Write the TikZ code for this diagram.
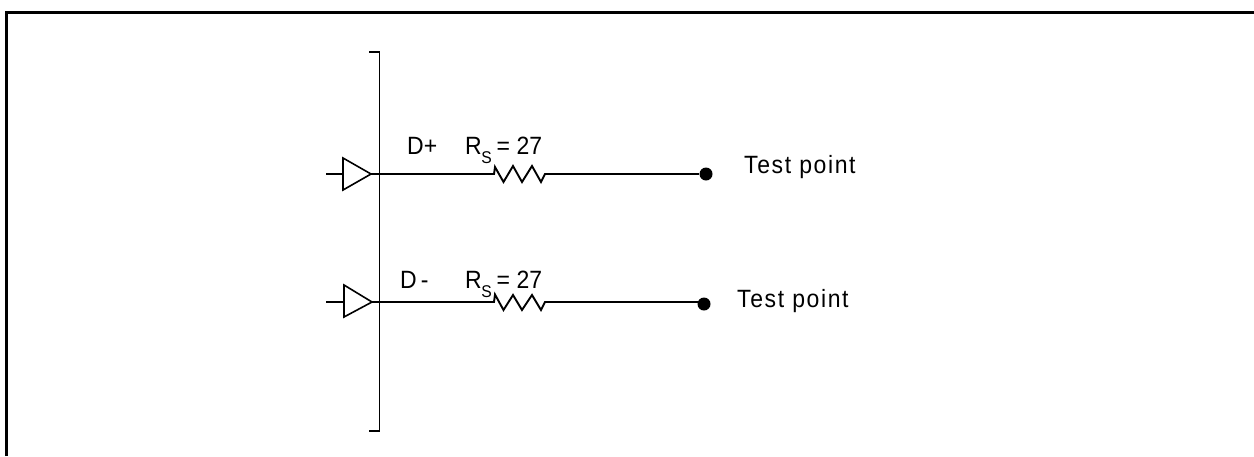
\documentclass[tikz,border=0pt]{standalone}
\usepackage{fontspec}
\setmainfont[FakeStretch=0.92]{Liberation Sans}
\newcommand{\rslabel}{R\kern-0.5pt\raisebox{-9pt}{\fontsize{17}{19}\selectfont S}\kern5pt= 27}
\tikzset{
 wire/.style={draw=black,line width=1.6pt},
 heavy/.style={draw=black,line width=1.9pt},
 frame/.style={draw=black,line width=3pt},
 lab/.style={inner sep=0pt,font=\fontsize{25}{28}\selectfont,anchor=base west},
 tplab/.style={lab,font=\fontsize{25}{28}\selectfont\addfontfeature{LetterSpace=6.5}},
 dotn/.style={circle,fill=black,inner sep=0pt,minimum size=13pt}
}
\begin{document}
\begin{tikzpicture}[x=1pt,y=-1pt,line join=miter]
\useasboundingbox (0,0) rectangle (1254,456);
\draw[frame] (6.5,456) -- (6.5,12.5) -- (1254,12.5);
\draw[wire] (369,52) -- (379.5,52) -- (379.5,431) -- (369,431);
% upper channel
\coordinate (i1) at (326,174);
\coordinate (t1) at (343,174);
\coordinate (o1) at (371,174);
\coordinate (r1z) at (474,174);
\coordinate (r1a) at (494,174);
\coordinate (r1b) at (545,174);
\coordinate (r1c) at (569,174);
\node[dotn] (d1) at (706,174) {};
\draw[wire] (i1) -- (t1);
\draw[wire] (343,158) -- (o1) -- (343,190) -- cycle;
\draw[wire] (o1) -- (r1z);
\draw[heavy] (r1z) -- (r1a) -- (495,167) -- (503.5,182) -- (513,166) -- (522,182) -- (532,166) -- (541,182) -- (r1b) -- (r1c);
\draw[wire] (r1c) -- (d1);
\node[lab] (dp) at (407,154) {D+};
\node[lab] (rs1) at (465,154) {\rslabel};
\node[tplab] (tp1) at (744,173) {Test point};
% lower channel
\coordinate (i2) at (326,302);
\coordinate (t2) at (344,302);
\coordinate (o2) at (372,302);
\coordinate (r2z) at (474,302);
\coordinate (r2a) at (494,302);
\coordinate (r2b) at (545,302);
\coordinate (r2c) at (569,302);
\node[dotn] (d2) at (704,304) {};
\draw[wire] (i2) -- (t2);
\draw[wire] (344,285) -- (o2) -- (344,317) -- cycle;
\draw[wire] (o2) -- (r2z);
\draw[heavy] (r2z) -- (r2a) -- (495,294.5) -- (503.5,310) -- (513,295) -- (522,310) -- (532,295) -- (541,310) -- (r2b) -- (r2c);
\draw[wire] (r2c) -- (d2.center|-r2c);
\node[lab] (dm) at (400,288) {D\,-};
\node[lab] (rs2) at (465,288) {\rslabel};
\node[tplab] (tp2) at (737,307) {Test point};
\end{tikzpicture}
\end{document}
